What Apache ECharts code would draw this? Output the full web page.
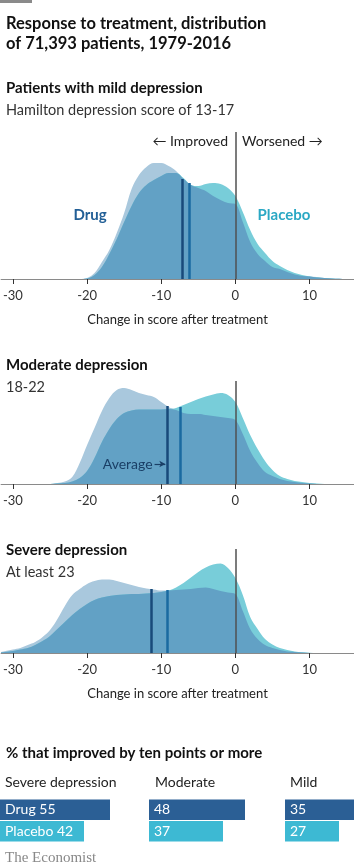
<!DOCTYPE html>
<html>
<head>
<meta charset="utf-8">
<script src="https://cdn.jsdelivr.net/npm/echarts@6/dist/echarts.min.js"></script>
<style>
  html, body { margin: 0; padding: 0; background: #fff; }
  #main { width: 354px; height: 864px; }
</style>
</head>
<body>
<div id="main"></div>
<script>
// change in Hamilton score (x) and curve heights
const xs = [-32,-31,-30,-29,-28,-27,-26,-25,-24,-23,-22,-21,-20,-19,-18,-17,-16,-15,-14,-13,-12,-11,-10,-9,-8,-7,-6,-5,-4,-3,-2,-1,0,1,2,3,4,5,6,7,8,9,10,11,12,13,14,15,16]

const mildDrug = [0,0,0,0,0,0,0,0,0,0,0,0,1,6,17,29,46,66,90,104,112,116,116,113,108,100,94,91,88,83,79,76,75,57,37,25,18,12,10,7,4.5,3,2.5,2,1,0.5,0.2,0,0]
const mildPlacebo = [0,0,0,0,0,0,0,0,0,0,0,0,0.5,4,12,25,40,57,73,86,94,99,103,106,106,101,94,93,95,96,95,91,83,67,49,35,26,18,13,9,6,4,2.5,1.5,1,0.5,0.2,0,0]

const modDrug = [0,0,0,0,0,0,0,0,1,2.5,7,21,39,56,73,86,94,96,94,91,89,87,82,77,74,71,70,70,69,68,67,66,64,50,33,21,12,8,5,3,2,1,0.5,0,0,0,0,0,0]
const modPlacebo = [0,0,0,0,0,0,0,0,0.5,1,2.5,6,13,26,42,55,65,71,73.5,74.5,74.5,74.5,74.5,75,76,79,82,85,87.5,89.5,91,89,82,66,49,35,23,14,8,5,3,2,1,0.5,0,0,0,0,0]

const sevDrug = [0.5,2,3.5,5,8,11,16,23,34,47,58,64,69,72,73.5,73.5,72,70,68,66,64.5,63.5,62.5,62.5,63,63.5,64,65,65.5,64,62,60.5,59,42,24,14,8,5,3,1.5,1,0.5,0,0,0,0,0,0,0]
const sevPlacebo = [0.3,1,2,3.5,5,8,12,17,24,31,38,44,49,53,55.5,57,58,58.5,59,59,59.5,60,61,62.5,65.5,70,75.5,81,85.5,88.5,89.5,85,75,58,36,24,14,8.5,5,3,1.5,0.8,0.3,0,0,0,0,0,0]

// averages: [x position, line height]
const drugAvg = [[-7.2, 100], [-9.2, 78], [-11.3, 64]]
const placeboAvg = [[-6.2, 96], [-7.5, 77], [-9.2, 63]]

const tickValues = [-30, -20, -10, 0, 10]

const groups = ['Severe depression', 'Moderate', 'Mild']
const drugPct = [55, 48, 35]
const placeboPct = [42, 37, 27]

const FONT = 'Lato'
const PALE = '#a9c8dd'
const CYAN = '#78cdd9'
const STEEL = '#62a1c5'
const DRUG_LINE = '#184a7a'
const PLAC_LINE = '#1a6aa0'

let myChart = echarts.init(document.getElementById('main'))

const panels = [
  {top: 132, height: 147, drug: mildDrug, placebo: mildPlacebo, name: 'Change in score after treatment'},
  {top: 381, height: 103, drug: modDrug, placebo: modPlacebo, name: ''},
  {top: 549, height: 104, drug: sevDrug, placebo: sevPlacebo, name: 'Change in score after treatment'}
]

let grid = [], xAxis = [], yAxis = [], series = []

panels.forEach((p, i) => {
  grid.push({left: 0, right: 0, top: p.top, height: p.height})
  xAxis.push({
    type: 'value', gridIndex: i, min: -31.6, max: 16,
    splitLine: {show: false},
    axisLine: {show: true, lineStyle: {color: '#8a8a8a', width: 1}},
    axisTick: {show: true, length: 5, lineStyle: {color: '#333'}, customValues: tickValues},
    axisLabel: {color: '#333', fontFamily: FONT, fontSize: 13, margin: 10, customValues: tickValues},
    name: p.name, nameLocation: 'middle', nameGap: 34,
    nameTextStyle: {color: '#222', fontFamily: FONT, fontSize: 13}
  })
  yAxis.push({type: 'value', gridIndex: i, min: 0, max: p.height, show: false})

  const area = (name, data, color, z) => ({
    name, type: 'line', xAxisIndex: i, yAxisIndex: i, smooth: 0.35, symbol: 'none',
    lineStyle: {width: 0}, areaStyle: {color, opacity: 1}, silent: true, z,
    data: xs.map((x, k) => [x, data[k]])
  })
  series.push(area('Drug', p.drug, PALE, 2))
  series.push(area('Placebo', p.placebo, CYAN, 3))
  const both = area('Both', p.drug.map((d, k) => Math.min(d, p.placebo[k])), STEEL, 4)

  let lines = [
    {xAxis: 0, lineStyle: {color: '#505050', width: 1.5, type: 'solid'}},
    [{coord: [drugAvg[i][0], 0], lineStyle: {color: DRUG_LINE, width: 2.5, type: 'solid'}}, {coord: drugAvg[i]}],
    [{coord: [placeboAvg[i][0], 0], lineStyle: {color: PLAC_LINE, width: 2.5, type: 'solid'}}, {coord: placeboAvg[i]}]
  ]
  if (i === 1) {
    lines.push([
      {coord: [-10.9, 20], lineStyle: {color: '#1a3f66', width: 1.2, type: 'solid'},
       label: {show: true, position: 'start', formatter: 'Average', color: '#1a3f66', fontFamily: FONT, fontSize: 14, distance: 2}},
      {coord: [-9.45, 20], symbol: 'arrow', symbolSize: [5, 6]}
    ])
  }
  both.markLine = {silent: true, symbol: ['none', 'none'], label: {show: false}, animation: false,
    lineStyle: {type: 'solid'}, data: lines}
  series.push(both)
})

// bars: % improved by ten points or more, 2px per percentage point
const barLefts = [0, 149, 285]
const barWidths = [140, 140, 69]
groups.forEach((g, j) => {
  const gi = 3 + j
  grid.push({left: barLefts[j], top: 799, height: 43, width: barWidths[j]})
  xAxis.push({type: 'value', gridIndex: gi, min: 0, max: barWidths[j] / 2, show: false})
  yAxis.push({type: 'category', gridIndex: gi, data: ['Drug', 'Placebo'], inverse: true, show: false})
  series.push({
    type: 'bar', xAxisIndex: gi, yAxisIndex: gi, barWidth: 20.5, silent: true, clip: true,
    data: [
      {value: drugPct[j], name: 'Drug', itemStyle: {color: '#2b5f95'}},
      {value: placeboPct[j], name: 'Placebo', itemStyle: {color: '#3db9d3'}}
    ],
    label: {
      show: true, position: 'insideLeft', distance: 5, color: '#fff', fontFamily: FONT, fontSize: 14,
      formatter: pr => (j === 0 ? pr.name + ' ' : '') + pr.value
    }
  })
})

const txt = (text, left, top, size, color, weight, family) => ({
  text, left, top,
  textStyle: {fontSize: size, color, fontWeight: weight || 'normal', fontFamily: family || FONT, lineHeight: size + 3}
})

myChart.setOption({
  animation: false,
  title: [
    txt('Response to treatment, distribution\nof 71,393 patients, 1979-2016', 1, 9, 16.5, '#111', 'bold'),
    txt('Patients with mild depression', 1, 74, 15, '#111', 'bold'),
    txt('Hamilton depression score of 13-17', 1, 97, 14.5, '#333'),
    txt('Moderate depression', 1, 351, 15, '#111', 'bold'),
    txt('18-22', 1, 374, 14.5, '#333'),
    txt('Severe depression', 1, 536, 15, '#111', 'bold'),
    txt('At least 23', 1, 559, 14.5, '#333'),
    txt('% that improved by ten points or more', 1, 739, 15, '#111', 'bold'),
    txt(groups[0], 0, 769, 14, '#222'),
    txt(groups[1], 150, 769, 14, '#222'),
    txt(groups[2], 285, 769, 14, '#222'),
    txt('The Economist', 0, 844, 15, '#888', 'normal', 'Liberation Serif')
  ],
  graphic: [
    {type: 'rect', left: 0, top: 0, shape: {width: 32, height: 3}, style: {fill: '#8a8a8a'}},
    {type: 'text', x: 228, y: 141, style: {text: '← Improved', align: 'right', verticalAlign: 'middle', fontSize: 14, fontFamily: FONT, fill: '#222'}},
    {type: 'text', x: 242, y: 141, style: {text: 'Worsened →', align: 'left', verticalAlign: 'middle', fontSize: 14, fontFamily: FONT, fill: '#222'}},
    {type: 'text', x: 90, y: 215, style: {text: 'Drug', align: 'center', verticalAlign: 'middle', fontSize: 15, fontWeight: 'bold', fontFamily: FONT, fill: '#225f96'}},
    {type: 'text', x: 284, y: 215, style: {text: 'Placebo', align: 'center', verticalAlign: 'middle', fontSize: 15, fontWeight: 'bold', fontFamily: FONT, fill: '#2aa8c4'}}
  ],
  grid, xAxis, yAxis, series
})
</script>
</body>
</html>
